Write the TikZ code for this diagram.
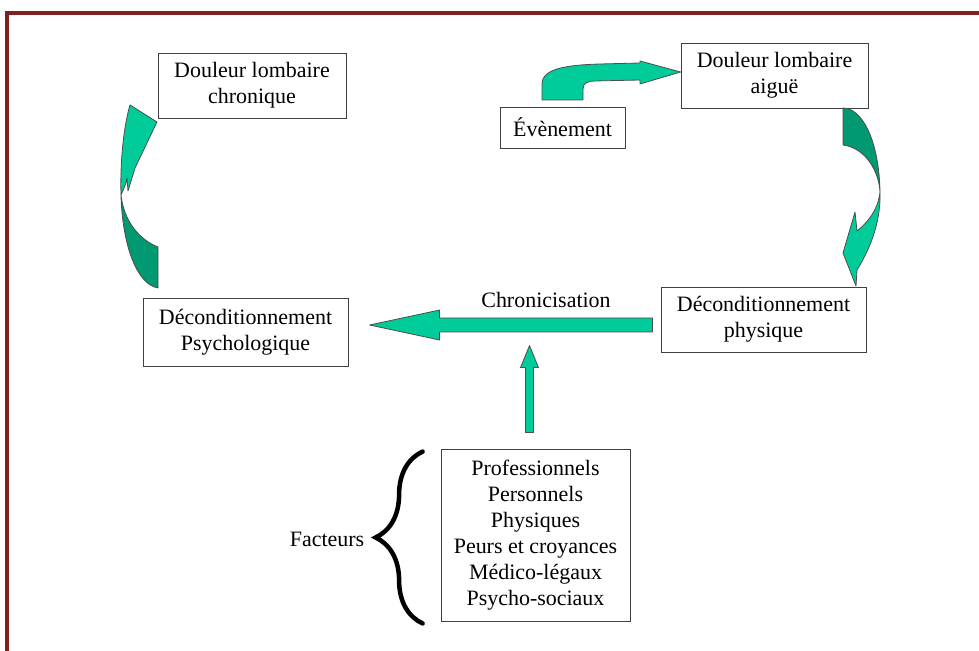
\documentclass[tikz,border=0pt]{standalone}
\usepackage{fontspec}
\setmainfont{Liberation Serif}
\usepackage{xcolor}
\usetikzlibrary{positioning}
\usetikzlibrary{calc}
\usetikzlibrary{decorations.pathreplacing}
\definecolor{arrowgreen}{RGB}{0,204,153}
\definecolor{arrowdark}{RGB}{0,153,114}
\definecolor{framered}{RGB}{128,32,32}
\tikzset{
	block/.style={
		rectangle,
		draw=black!75,
		line width=.5pt,
		align=center,
		inner sep=0pt,
		font=\fontsize{12.5}{14.8}\selectfont
	},
	label/.style={
		inner sep=0pt,
		font=\fontsize{12.5}{14.8}\selectfont
	},
	bigarrow/.style={
		fill=arrowgreen,
		draw=black!70,
		line width=.45pt,
		line join=round
	},
	bigarrowback/.style={
		bigarrow,
		fill=arrowdark
	}
}

\begin{document}
\begin{tikzpicture}[x=0.02cm, y=-0.02cm]
		\useasboundingbox (0,0) rectangle (979,651);
		\draw[framered, line width=.075cm] (7,651) -- (7,13) -- (979,13);

		\draw node[block, minimum width=3.76cm, minimum height=1.3cm](Chronic) at (252,85.5){Douleur lombaire\\ chronique};
		\draw node[block, minimum width=3.74cm, minimum height=1.3cm](Acute) at (774.5,75.5){Douleur lombaire\\ aiguë};
		\draw node[block, minimum width=2.5cm, minimum height=.82cm](Event) at (562.5,127.5){Évènement};
		\draw node[block, minimum width=4.1cm, minimum height=1.3cm](PhysDecond) at (763.5,319.5){Déconditionnement\\ physique};
		\draw node[block, minimum width=4.1cm, minimum height=1.36cm](PsychDecond) at (245.5,332){Déconditionnement\\ Psychologique};
		\draw node[block, minimum width=3.78cm, minimum height=3.44cm](Factors) at (535.5,535){Professionnels\\ Personnels\\ Physiques\\ Peurs et croyances\\ Médico-légaux\\ Psycho-sociaux};
		\draw node[label](ChronLabel) at (546,300){Chronicisation};

		% Evenement -> douleur aigue
		\filldraw[bigarrow] (542,100) -- (542,84) .. controls (542,69) and (565,65) .. (600,64) -- (640,63) -- (640,61) -- (Acute.west |- 0,72) -- (640,84) -- (640,80) -- (595,81) .. controls (588,81) and (583,83) .. (583,89) -- (583,100) -- cycle;

		% douleur aigue -> deconditionnement physique
		\filldraw[bigarrowback] (843,108) .. controls (862,108) and (879,140) .. (880,192) .. controls (879,172) and (866,148) .. (843,145) -- cycle;
		\filldraw[bigarrow] (880,192) .. controls (881,225) and (868,252) .. (857,270) -- (856,286) -- (843,253) -- (855,212) -- (857,231) .. controls (868,222) and (878,210) .. (880,192) -- cycle;

		% chronicisation
		\filldraw[bigarrow] ($(PhysDecond.west)+(-8,-1.5)$) -- ++(-213,0) -- ++(0,-8) -- ++(-70,15) -- ++(70,15) -- ++(0,-8) -- ++(213,0) -- cycle;
		\filldraw[bigarrow] ($(Factors.north)+(-10,-16)$) -- ++(0,-65) -- ++(-5,0) -- ++(9,-22) -- ++(9,22) -- ++(-5,0) -- ++(0,65) -- cycle;

		% deconditionnement psychologique -> douleur chronique
		\filldraw[bigarrowback] (121,195) .. controls (122,240) and (135,284) .. (158,288) -- (158,247) .. controls (140,240) and (124,222) .. (121,195) -- cycle;
		\filldraw[bigarrow] (121,195) .. controls (120,160) and (124,125) .. (130,105) -- (157,122) -- (135,168) -- (128,191) -- (127,178) .. controls (126,185) and (123,190) .. (121,195) -- cycle;

		% facteurs
		\draw[decorate, decoration={brace, amplitude=.94cm}, line width=.09cm, line cap=round] ($(Factors.south west)+(-18,2)$) -- ($(Factors.north west)+(-18,3)$);
		\coordinate (BraceTip) at ($(Factors.west)+(-65,4)$);
		\draw node[label, left=.22cm of BraceTip](FactorsLabel){Facteurs};
	\end{tikzpicture}
\end{document}
